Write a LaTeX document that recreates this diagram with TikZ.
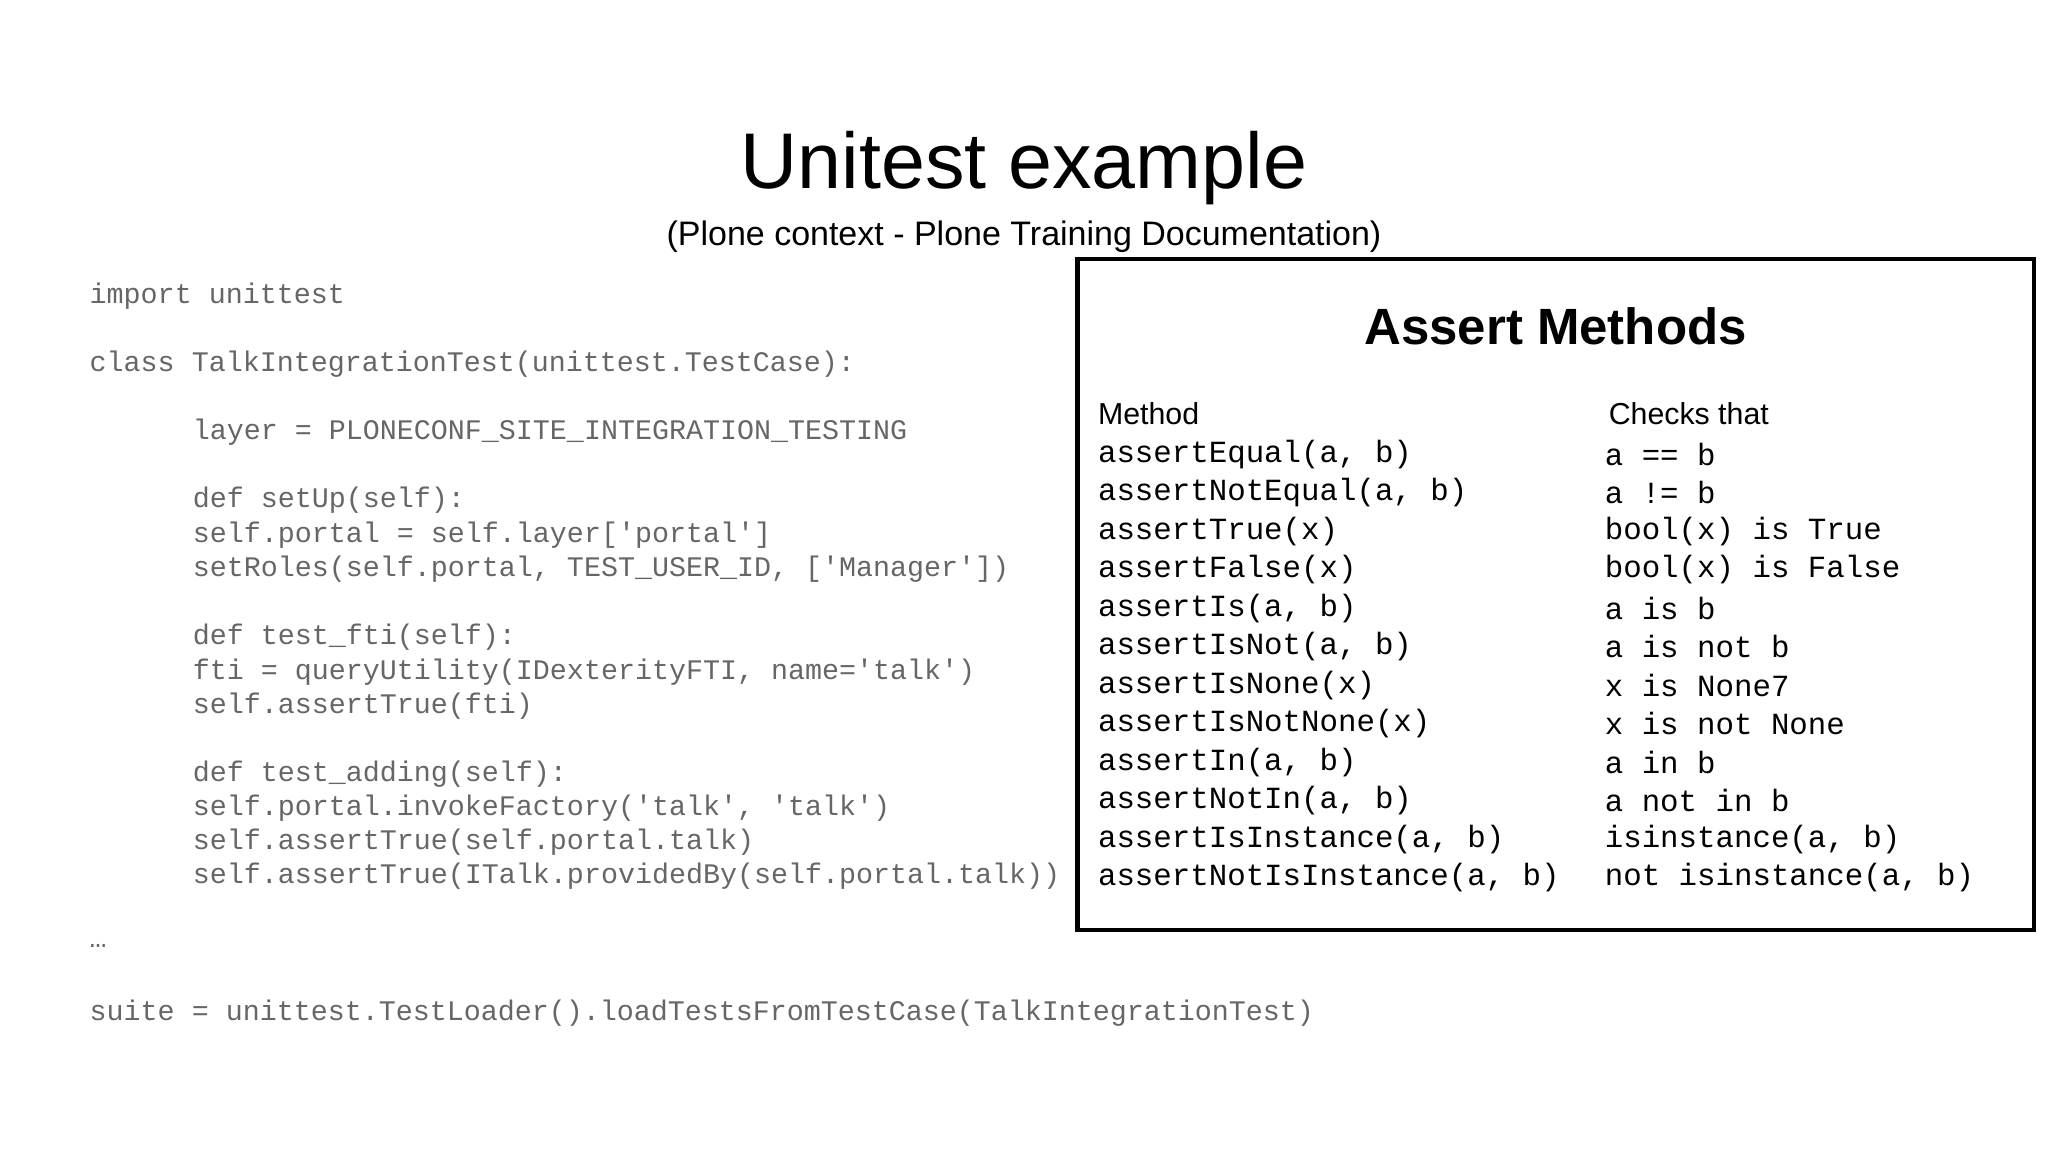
\documentclass[tikz,border=0pt]{standalone}
\usepackage{fontspec}
\setmainfont{Liberation Sans}
\setmonofont{Liberation Mono}
\begin{document}
\begin{tikzpicture}[x=0.01cm,y=-0.01cm,
 code/.style={anchor=west,inner sep=0pt,font=\ttfamily\fontsize{6.17pt}{7pt}\selectfont,text=black!60},
 mono/.style={anchor=west,inner sep=0pt,font=\ttfamily\fontsize{6.7pt}{7pt}\selectfont},
 sans/.style={anchor=west,inner sep=0pt,font=\fontsize{6.6pt}{7pt}\selectfont}]
\useasboundingbox (0,0) rectangle (1568,882);
\node[inner sep=0pt,font=\fontsize{17.2pt}{20pt}\selectfont] (title) at (784,129) {Unitest example};
\node[inner sep=0pt,font=\fontsize{7.4pt}{9pt}\selectfont] (sub) at (784,181) {(Plone context - Plone Training Documentation)};
% code
\node[code] (c1) at (68,227) {import unittest};
\node[code] (c2) at (68,279) {class TalkIntegrationTest(unittest.TestCase):};
\node[code] (c3) at (147,331) {layer = PLONECONF\_SITE\_INTEGRATION\_TESTING};
\node[code] (c4) at (147,383) {def setUp(self):};
\node[code] (c5) at (147,410) {self.portal = self.layer['portal']};
\node[code] (c6) at (147,436) {setRoles(self.portal, TEST\_USER\_ID, ['Manager'])};
\node[code] (c7) at (147,488) {def test\_fti(self):};
\node[code] (c8) at (147,515) {fti = queryUtility(IDexterityFTI, name='talk')};
\node[code] (c9) at (147,541) {self.assertTrue(fti)};
\node[code] (c10) at (147,593) {def test\_adding(self):};
\node[code] (c11) at (147,619) {self.portal.invokeFactory('talk', 'talk')};
\node[code] (c12) at (147,645) {self.assertTrue(self.portal.talk)};
\node[code] (c13) at (147,671) {self.assertTrue(ITalk.providedBy(self.portal.talk))};
\node[code] (c14) at (68,724) {…};
\node[code] (c15) at (68,776) {suite = unittest.TestLoader().loadTestsFromTestCase(TalkIntegrationTest)};
% box
\draw[line width=0.9pt] (825,198) rectangle (1557,712);
\node[inner sep=0pt,font=\bfseries\fontsize{11.1pt}{13pt}\selectfont] (ah) at (1191,250) {Assert Methods};
\node[sans] (h1) at (840,317) {Method};
\node[sans] (h2) at (1231,317) {Checks that};
\foreach \m/\c [count=\i from 0] in {
 {assertEqual(a, b)}/{a == b},
 {assertNotEqual(a, b)}/{a != b},
 {assertTrue(x)}/{bool(x) is True},
 {assertFalse(x)}/{bool(x) is False},
 {assertIs(a, b)}/{a is b},
 {assertIsNot(a, b)}/{a is not b},
 {assertIsNone(x)}/{x is None7},
 {assertIsNotNone(x)}/{x is not None},
 {assertIn(a, b)}/{a in b},
 {assertNotIn(a, b)}/{a not in b},
 {assertIsInstance(a, b)}/{isinstance(a, b)},
 {assertNotIsInstance(a, b)}/{not isinstance(a, b)}}{
 \node[mono] (m\i) at (840,348+29.45*\i) {\m};
 \node[mono] (k\i) at (1228,348+29.45*\i) {\c};
}
\end{tikzpicture}
\end{document}
